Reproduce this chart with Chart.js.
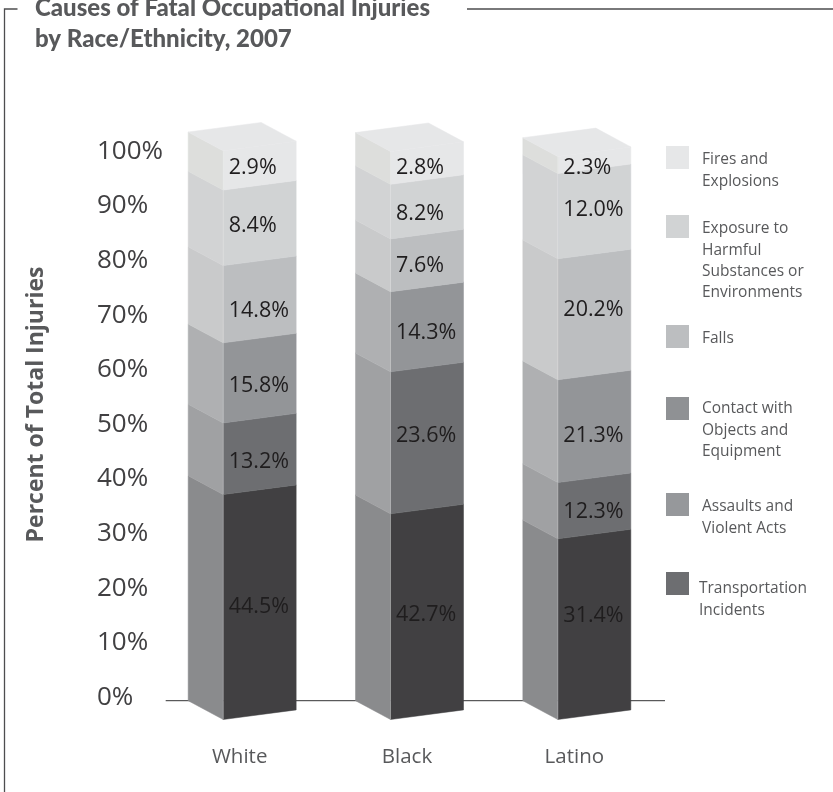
<!DOCTYPE html>
<html lang="en">
<head>
    <meta charset="UTF-8">
    <title>Causes of Fatal Occupational Injuries by Race/Ethnicity, 2007</title>
    <script src="https://cdn.jsdelivr.net/npm/chart.js"></script>
    <style>
        html, body { margin: 0; padding: 0; background: #fff; }
        canvas { display: block; }
    </style>
</head>
<body>
    <canvas id="injuryChart" width="833" height="792"></canvas>

    <script>
        var races = ['White', 'Black', 'Latino'];
        var tickValues = [0, 10, 20, 30, 40, 50, 60, 70, 80, 90, 100];

        // percentages printed on the segments
        var firesPrinted = [2.9, 2.8, 2.3];
        var exposurePrinted = [8.4, 8.2, 12.0];
        var fallsPrinted = [14.8, 7.6, 20.2];
        var contactPrinted = [15.8, 14.3, 21.3];
        var assaultsPrinted = [13.2, 23.6, 12.3];
        var transportPrinted = [44.5, 42.7, 31.4];

        // segment heights as drawn in the picture, they are not proportional to the printed numbers
        var firesHeight = [6.9, 5.8, 3.0];
        var exposureHeight = [13.3, 9.6, 15.0];
        var fallsHeight = [13.6, 9.3, 21.3];
        var contactHeight = [14.1, 14.1, 18.1];
        var assaultsHeight = [12.6, 25.0, 9.9];
        var transportHeight = [39.6, 36.2, 31.8];

        var causeLabels = [
            ['Fires and', 'Explosions'],
            ['Exposure to', 'Harmful', 'Substances or', 'Environments'],
            ['Falls'],
            ['Contact with', 'Objects and', 'Equipment'],
            ['Assaults and', 'Violent Acts'],
            ['Transportation', 'Incidents']
        ];

        // styles, top segment first
        var frontColors = ['#e6e7e8', '#d1d3d4', '#bcbec0', '#939598', '#6d6e71', '#414042'];
        var sideColors = ['#dddedc', '#d2d3d4', '#c9cacb', '#afb0b2', '#a0a1a3', '#8a8b8d'];
        var swatchColors = ['#e6e7e8', '#d1d3d4', '#bcbec0', '#8f9194', '#96989b', '#6d6e71'];

        var legendTops = [146, 215, 325, 397, 493, 572];
        var legendTextX = [702, 702, 702, 702, 702, 699];
        var legendTextDrop = [14, 14, 14, 12, 14, 17];
        // small vertical shifts of the printed labels, by segment then bar
        var labelShift = [[2, 5, 8], [3, 7, -1], [11, 5, -5], [8, 6, 9], [8, -2, 6], [5, 3, -8]];

        var depthX = 35, depthY = 18.8, slopeY = 9.6;
        var textColor = '#58595b';

        var printed = [firesPrinted, exposurePrinted, fallsPrinted, contactPrinted, assaultsPrinted, transportPrinted];
        var heights = [firesHeight, exposureHeight, fallsHeight, contactHeight, assaultsHeight, transportHeight];

        function poly(ctx, pts, color) {
            ctx.beginPath();
            pts.forEach(function(p, i) {
                if (i === 0) ctx.moveTo(p[0], p[1]); else ctx.lineTo(p[0], p[1]);
            });
            ctx.closePath();
            ctx.fillStyle = color;
            ctx.fill();
            ctx.strokeStyle = color;
            ctx.lineWidth = 0.5;
            ctx.stroke();
        }

        // bars are transparent in the dataset, this draws them as boxes from the bar elements
        var boxPlugin = {
            id: 'boxBars',
            beforeDatasetsDraw: function(chart) {
                var ctx = chart.ctx;
                var area = chart.chartArea;
                var baseY = chart.scales.yBars.getPixelForValue(0) - depthY;

                // baseline behind the bars
                ctx.save();
                ctx.strokeStyle = '#333334';
                ctx.lineWidth = 1;
                ctx.beginPath();
                ctx.moveTo(area.left - 10.3, baseY);
                ctx.lineTo(area.right - 13, baseY);
                ctx.stroke();

                chart.data.datasets.forEach(function(ds, d) {
                    var idx = causeLabels.length - 1 - d; // datasets are stacked bottom first
                    chart.getDatasetMeta(d).data.forEach(function(bar) {
                        var left = bar.x - bar.width / 2;
                        var right = bar.x + bar.width / 2;
                        poly(ctx, [[left, bar.y], [right, bar.y - slopeY], [right, bar.base - slopeY], [left, bar.base]], frontColors[idx]);
                        poly(ctx, [[left - depthX, bar.y - depthY], [left, bar.y], [left, bar.base], [left - depthX, bar.base - depthY]], sideColors[idx]);
                        if (idx === 0) {
                            poly(ctx, [[left, bar.y], [right, bar.y - slopeY], [right - depthX, bar.y - slopeY - depthY], [left - depthX, bar.y - depthY]], frontColors[0]);
                        }
                        // faint light edge on the front corner
                        ctx.strokeStyle = 'rgba(255,255,255,0.3)';
                        ctx.lineWidth = 0.6;
                        ctx.beginPath();
                        ctx.moveTo(left, bar.y);
                        ctx.lineTo(left, bar.base);
                        ctx.stroke();
                    });
                });
                ctx.restore();
            },
            afterDatasetsDraw: function(chart) {
                var ctx = chart.ctx;
                ctx.save();

                // numbers on the segments
                ctx.font = '21.5px "Open Sans"';
                ctx.fillStyle = '#1f1d1e';
                ctx.textAlign = 'left';
                ctx.textBaseline = 'middle';
                chart.data.datasets.forEach(function(ds, d) {
                    var idx = causeLabels.length - 1 - d;
                    chart.getDatasetMeta(d).data.forEach(function(bar, b) {
                        var y = (bar.y + bar.base) / 2 - slopeY / 2 + labelShift[idx][b];
                        ctx.fillText(printed[idx][b].toFixed(1) + '%', bar.x - bar.width / 2 + 5.5, y);
                    });
                });

                // legend
                ctx.font = '15.5px "Open Sans"';
                causeLabels.forEach(function(lines, i) {
                    ctx.fillStyle = swatchColors[i];
                    ctx.fillRect(666, legendTops[i], 23, 23);
                    ctx.fillStyle = textColor;
                    lines.forEach(function(line, n) {
                        ctx.fillText(line, legendTextX[i], legendTops[i] + legendTextDrop[i] + n * 21.2);
                    });
                });

                // frame around the graphic
                ctx.strokeStyle = '#4d4d4f';
                ctx.lineWidth = 1.3;
                ctx.beginPath();
                ctx.moveTo(17.5, 9);
                ctx.lineTo(4.5, 9);
                ctx.lineTo(4.5, 792);
                ctx.moveTo(467, 9);
                ctx.lineTo(833, 9);
                ctx.stroke();
                ctx.restore();
            }
        };

        var datasets = heights.slice().reverse().map(function(values, i) {
            return {
                label: causeLabels[causeLabels.length - 1 - i].join(' '),
                data: values,
                yAxisID: 'yBars',
                backgroundColor: 'rgba(0,0,0,0)',
                barThickness: 73
            };
        });

        new Chart(document.getElementById('injuryChart').getContext('2d'), {
            type: 'bar',
            data: { labels: races, datasets: datasets },
            plugins: [boxPlugin],
            options: {
                responsive: false,
                animation: false,
                events: [],
                layout: { padding: { left: 35, right: 155, top: 0, bottom: 0 } },
                plugins: {
                    legend: { display: false },
                    tooltip: { enabled: false },
                    title: {
                        display: true,
                        align: 'start',
                        text: ['Causes of Fatal Occupational Injuries', 'by Race/Ethnicity, 2007'],
                        color: textColor,
                        font: { family: 'Lato', size: 24, weight: '900', lineHeight: 1.29 },
                        padding: { top: -7, bottom: 29 }
                    }
                },
                scales: {
                    x: {
                        stacked: true,
                        grid: { display: false },
                        border: { display: false },
                        ticks: {
                            color: textColor,
                            font: { family: 'Open Sans', size: 20.5 },
                            labelOffset: -20,
                            padding: 12,
                            maxRotation: 0
                        },
                        afterFit: function(scale) { scale.height = 67; }
                    },
                    // percent labels, spaced a little tighter than the bars themselves
                    y: {
                        min: -5.04,
                        max: 112.36,
                        grid: { display: false },
                        border: { display: false },
                        afterBuildTicks: function(scale) {
                            scale.ticks = tickValues.map(function(v) { return { value: v }; });
                        },
                        ticks: {
                            color: '#414042',
                            font: { family: 'Open Sans', size: 26 },
                            crossAlign: 'far',
                            padding: 0,
                            autoSkip: false,
                            callback: function(v) { return v + '%'; }
                        },
                        afterFit: function(scale) { scale.width = 79; }
                    },
                    yBars: {
                        position: 'left',
                        weight: 1,
                        stacked: true,
                        min: -0.968,
                        max: 111.88,
                        grid: { display: false },
                        border: { display: false },
                        ticks: { display: false },
                        title: {
                            display: true,
                            text: 'Percent of Total Injuries',
                            color: textColor,
                            font: { family: 'Open Sans', size: 23, weight: 'bold', lineHeight: 1.2 },
                            padding: { top: -12, bottom: 0 }
                        },
                        afterFit: function(scale) { scale.width = 62; }
                    }
                }
            }
        });
    </script>
</body>
</html>
